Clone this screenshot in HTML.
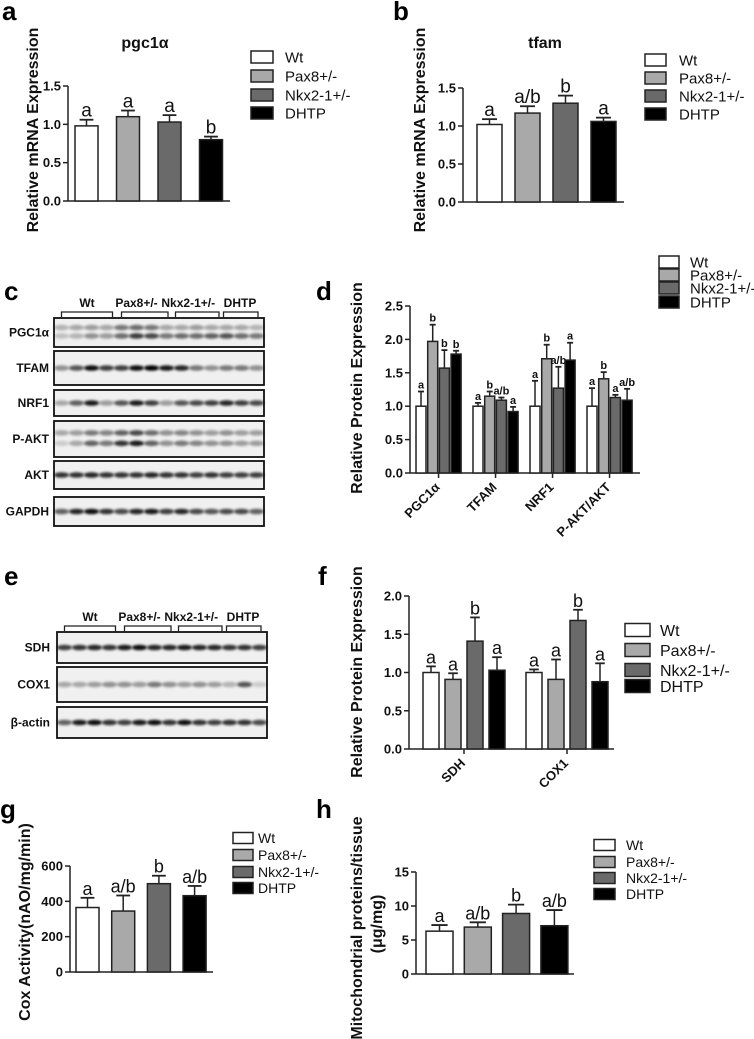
<!DOCTYPE html>
<html><head><meta charset="utf-8">
<style>
html,body{margin:0;padding:0;background:#fff;}
svg{display:block;font-family:"Liberation Sans",Arial,sans-serif;}
.tk{font-size:13px;font-weight:bold;fill:#111;}
.lg{font-size:15px;fill:#111;}
.pl{font-size:26px;font-weight:bold;fill:#000;}
.yt{font-size:16px;font-weight:bold;fill:#111;}
.bl{font-size:12px;font-weight:bold;fill:#111;}
</style></head>
<body>
<svg id="fig" width="754" height="1039" viewBox="0 0 754 1039" xmlns="http://www.w3.org/2000/svg">
<defs>
<filter id="blur" x="-50%" y="-100%" width="200%" height="300%"><feGaussianBlur stdDeviation="1.3"/></filter>
</defs>
</svg>
<script>
// ---------- data ----------
const groupNames = ["Wt","Pax8+/-","Nkx2-1+/-","DHTP"];
const groupFills = ["#ffffff","#a9a9a9","#6a6a6a","#000000"];

const aValues = [0.98,1.10,1.03,0.80];
const aErrors = [0.08,0.08,0.09,0.04];
const aLetters = ["a","a","a","b"];
const abTicks = [0,0.5,1.0,1.5];
const abTickLabels = ["0.0","0.5","1.0","1.5"];

const bValues = [1.02,1.17,1.30,1.06];
const bErrors = [0.07,0.09,0.10,0.05];
const bLetters = ["a","a/b","b","a"];

const dCategories = ["PGC1\u03b1","TFAM","NRF1","P-AKT/AKT"];
const dValues = [[1.0,1.97,1.57,1.78],[1.0,1.15,1.09,0.92],[1.0,1.71,1.27,1.69],[1.0,1.41,1.13,1.09]];
const dErrors = [[0.22,0.25,0.27,0.05],[0.05,0.07,0.04,0.07],[0.38,0.21,0.32,0.26],[0.27,0.10,0.04,0.17]];
const dLetters = [["a","b","b","b"],["a","b","a/b","a"],["a","b","a/b","a"],["a","b","a","a/b"]];
const dTicks = [0,0.5,1.0,1.5,2.0,2.5];
const dTickLabels = ["0.0","0.5","1.0","1.5","2.0","2.5"];

const fCategories = ["SDH","COX1"];
const fValues = [[1.0,0.91,1.41,1.03],[1.0,0.91,1.68,0.88]];
const fErrors = [[0.08,0.08,0.31,0.17],[0.04,0.26,0.14,0.24]];
const fLetters = [["a","a","b","a"],["a","a","b","a"]];
const fTicks = [0,0.5,1.0,1.5,2.0];
const fTickLabels = ["0.0","0.5","1.0","1.5","2.0"];

const gValues = [365,345,500,432];
const gErrors = [55,88,45,55];
const gLetters = ["a","a/b","b","a/b"];
const gTicks = [0,200,400,600];
const gTickLabels = ["0","200","400","600"];

const hValues = [6.3,6.9,8.9,7.1];
const hErrors = [0.9,0.7,1.3,2.3];
const hLetters = ["a","a/b","b","a/b"];
const hTicks = [0,5,10,15];
const hTickLabels = ["0","5","10","15"];

// blot intensities (14 lanes)
const blotC = [
 {name:"PGC1\u03b1", bands:[[.25,.3,.35,.3,.5,.55,.5,.3,.3,.35,.3,.3,.3,.25],[.2,.25,.4,.35,.55,.75,.7,.5,.55,.55,.6,.65,.55,.5]]},
 {name:"TFAM", bands:[[.4,.65,.95,.75,.75,.95,1,.9,.85,.5,.4,.5,.5,.4]]},
 {name:"NRF1", bands:[[.3,.6,.9,.35,.65,.9,.75,.35,.65,.7,.75,.85,.75,.7]]},
 {name:"P-AKT", bands:[[.3,.35,.5,.45,.6,.7,.55,.4,.45,.4,.35,.4,.35,.35],[.15,.3,.6,.5,.8,.9,.6,.4,.5,.45,.4,.4,.35,.35]]},
 {name:"AKT", bands:[[.8,.8,.85,.8,.8,.8,.85,.8,.8,.75,.8,.75,.75,.75]]},
 {name:"GAPDH", bands:[[.6,.85,.95,.8,.7,.85,.9,.75,.85,.7,.65,.7,.7,.6]]}
];
const blotE = [
 {name:"SDH", bands:[[.75,.8,.85,.8,.9,.95,.85,.85,.9,.85,.85,.8,.8,.75]]},
 {name:"COX1", bands:[[.3,.3,.35,.4,.4,.35,.5,.4,.35,.4,.35,.25,.65,.15]]},
 {name:"\u03b2-actin", bands:[[.6,.9,.95,.8,.75,.9,.95,.8,.95,.8,.75,.8,.8,.7]]}
];
const blotHeaders = ["Wt","Pax8+/-","Nkx2-1+/-","DHTP"];

// ---------- helpers ----------
const NS="http://www.w3.org/2000/svg";
const svg=document.getElementById("fig");
function mk(tag,attrs,parent,text){
  const e=document.createElementNS(NS,tag);
  for(const k in attrs)e.setAttribute(k,attrs[k]);
  if(text!==undefined)e.textContent=text;
  (parent||svg).appendChild(e);return e;
}
function scaleY(y0,y1,vmax){return v=>y0-(v/vmax)*(y0-y1);}

function axes(g,ax,y0,y1,xEnd,ticks,labels,vmax,fs){
  const sy=scaleY(y0,y1,vmax);
  const yl=mk("line",{x1:ax,y1:y0,x2:ax,y2:y1,stroke:"#222","stroke-width":1.5},g);
  
  
  const xl=mk("line",{x1:ax,y1:y0,x2:xEnd,y2:y0,stroke:"#222","stroke-width":1.5},g);
  
  
  ticks.forEach((t,i)=>{
    const y=sy(t);
    mk("line",{x1:ax-5,y1:y,x2:ax,y2:y,stroke:"#222","stroke-width":1.5},g);
    const tl=mk("text",{x:ax-7,y:y+4.5,"text-anchor":"end",class:"tk","font-size":fs||13},g,labels[i]);
    
    
  });
  return sy;
}
function bar(g,x,w,v,e,sy,fill,letter,lfs,lbold){
  const y0=sy(0),yt=sy(v),ye=sy(v+e);
  const r=mk("rect",{x:x,y:yt,width:w,height:y0-yt,fill:fill,stroke:"#222","stroke-width":1.5},g);
  
  
  const cx=x+w/2,cw=w*0.3;
  mk("line",{x1:cx,y1:yt,x2:cx,y2:ye,stroke:"#222","stroke-width":1.5},g);
  mk("line",{x1:cx-cw,y1:ye,x2:cx+cw,y2:ye,stroke:"#222","stroke-width":1.8},g);
  const t=mk("text",{x:cx,y:ye-3,"text-anchor":"middle","font-size":lfs,"font-weight":lbold?"bold":"normal",fill:"#111"},g,letter);
  
  
}
function legend(g,bx,bw,bh,ys,tx,fs){
  groupNames.forEach((n,i)=>{
    const r=mk("rect",{x:bx,y:ys[i]-bh/2,width:bw,height:bh,fill:groupFills[i],stroke:"#222","stroke-width":1.5},g);
    
    
    const t=mk("text",{x:tx,y:ys[i]+fs*0.36,"font-size":fs,fill:"#111"},g,n);
    
    
  });
}
function panelLabel(x,y,s){
  const t=mk("text",{x:x,y:y,class:"pl"},svg,s);
  
  
}
function yTitle(x,y,s,fs){
  const t=mk("text",{x:x,y:y,class:"yt","text-anchor":"middle","font-size":fs||16,transform:`rotate(-90 ${x} ${y})`},svg,s);
  
  
}
function simpleChart(name,ax,y0,y1,xEnd,vmax,ticks,labels,x0,pitch,w,vals,errs,lets,lfs,fs){
  const g=mk("g",{});
  
  
  const sy=axes(g,ax,y0,y1,xEnd,ticks,labels,vmax,fs);
  vals.forEach((v,i)=>bar(g,x0+i*pitch,w,v,errs[i],sy,groupFills[i],lets[i],lfs,false));
  return g;
}
function groupedChart(name,ax,y0,y1,xEnd,vmax,ticks,labels,x0,pitch,w,gpitch,cats,vals,errs,lets,lfs,lbold){
  const g=mk("g",{});
  
  
  const sy=axes(g,ax,y0,y1,xEnd,ticks,labels,vmax);
  cats.forEach((c,k)=>{
    const gx=x0+k*gpitch;
    vals[k].forEach((v,i)=>bar(g,gx+i*pitch,w,v,errs[k][i],sy,groupFills[i],lets[k][i],lfs,lbold));
    const tx=gx+(3*pitch+w)/2;
    mk("line",{x1:tx,y1:y0,x2:tx,y2:y0+5,stroke:"#222","stroke-width":1.5},g);
    const t=mk("text",{x:tx+2,y:y0+15,"text-anchor":"end",class:"tk",transform:`rotate(-45 ${tx+2} ${y0+15})`},g,c);
    
    
  });
}
function blots(name,x0,x1,labX,headY,brY,rows){
  const g=mk("g",{});
  
  
  const lane=(x1-x0)/14;
  const hx=[x0+lane*2.2,x0+lane*5.5,x0+lane*8.95,x0+lane*12.4];
  const spans=[[0.5,3.9],[4.5,7.6],[8.1,11.0],[11.3,13.6]];
  blotHeaders.forEach((h,i)=>{
    const t=mk("text",{x:hx[i],y:headY,"text-anchor":"middle",class:"bl"},g,h);
    
    
    const a=x0+spans[i][0]*lane,b=x0+spans[i][1]*lane;
    mk("path",{d:`M${a},${brY+5}V${brY}H${b}V${brY+5}`,fill:"none",stroke:"#222","stroke-width":1.3},g);
  });
  rows.forEach(r=>{
    const box=mk("rect",{x:x0,y:r.y0,width:x1-x0,height:r.y1-r.y0,fill:"#f0f0f0",stroke:"#111","stroke-width":1.8},g);
    
    
    const lb=mk("text",{x:labX,y:(r.y0+r.y1)/2+4,"text-anchor":"end",class:"bl"},g,r.name);
    
    
    const n=r.bands.length;
    r.bands.forEach((arr,bi)=>{
      const by=n===1?(r.y0+r.y1)/2:r.y0+(r.y1-r.y0)*(bi===0?0.33:0.62);
      arr.forEach((v,li)=>{
        mk("ellipse",{cx:x0+lane*(li+0.5),cy:by,rx:lane*0.5,ry:2.8,fill:"#000","fill-opacity":v,filter:"url(#blur)"},g);
      });
    });
  });
}

// ---------- panel a ----------
panelLabel(2,20,"a");
yTitle(38,130,"Relative mRNA Expression");
const ta=mk("text",{x:145,y:48,"text-anchor":"middle","font-size":16,"font-weight":"bold",fill:"#111"},svg,"pgc1\u03b1");

simpleChart("chart-a",68,201,86,230,1.5,abTicks,abTickLabels,75,41.5,23,aValues,aErrors,aLetters,19);
legend(svg,251,22,12,[57,76,95,113],285,15);

// ---------- panel b ----------
panelLabel(393,20,"b");
yTitle(425,130,"Relative mRNA Expression");
const tb=mk("text",{x:545,y:48,"text-anchor":"middle","font-size":16,"font-weight":"bold",fill:"#111"},svg,"tfam");

simpleChart("chart-b",463,202,88,624,1.5,abTicks,abTickLabels,477,38,25,bValues,bErrors,bLetters,19);
legend(svg,645,21,12,[60,78,96,114],679,15);

// ---------- panel c ----------
panelLabel(4,300,"c");
blots("blot-panel-c",54,264,49,307,312,[
 {name:blotC[0].name,bands:blotC[0].bands,y0:318,y1:347},
 {name:blotC[1].name,bands:blotC[1].bands,y0:351,y1:385},
 {name:blotC[2].name,bands:blotC[2].bands,y0:390,y1:416},
 {name:blotC[3].name,bands:blotC[3].bands,y0:421,y1:457},
 {name:blotC[4].name,bands:blotC[4].bands,y0:461,y1:489},
 {name:blotC[5].name,bands:blotC[5].bands,y0:497,y1:526}
]);

// ---------- panel d ----------
panelLabel(316,300,"d");
yTitle(362,388,"Relative Protein Expression");
groupedChart("chart-d",410,473,306,640,2.5,dTicks,dTickLabels,416,11.7,10,57,dCategories,dValues,dErrors,dLetters,11,true);
legend(svg,659,20,12,[262,275,288,302],690,15);

// ---------- panel e ----------
panelLabel(4,585,"e");
blots("blot-panel-e",57,267,50,621,626,[
 {name:blotE[0].name,bands:blotE[0].bands,y0:632,y1:663},
 {name:blotE[1].name,bands:blotE[1].bands,y0:667,y1:702},
 {name:blotE[2].name,bands:blotE[2].bands,y0:707,y1:738}
]);

// ---------- panel f ----------
panelLabel(318,585,"f");
yTitle(362,672,"Relative Protein Expression");
groupedChart("chart-f",409,749,596,614,2.0,fTicks,fTickLabels,423,22,16,103,fCategories,fValues,fErrors,fLetters,18,false);
legend(svg,625,25,13,[630,650,670,686],660,16);

// ---------- panel g ----------
panelLabel(0,818,"g");
yTitle(30,922,"Cox Activity(nAO/mg/min)");
simpleChart("chart-g",70,972,866,213,600,gTicks,gTickLabels,76,35.7,23,gValues,gErrors,gLetters,18,12);
legend(svg,233,20,11,[838,855,872,888],258,14);

// ---------- panel h ----------
panelLabel(316,818,"h");
yTitle(362,928,"Mitochondrial proteins/tissue",15);
yTitle(382,924,"(\u03bcg/mg)",15);
simpleChart("chart-h",416,974,872,574,15,hTicks,hTickLabels,426,38.3,27,hValues,hErrors,hLetters,18,12);
legend(svg,594,21,11,[845,862,878,894],626,14);
</script>
</body></html>
